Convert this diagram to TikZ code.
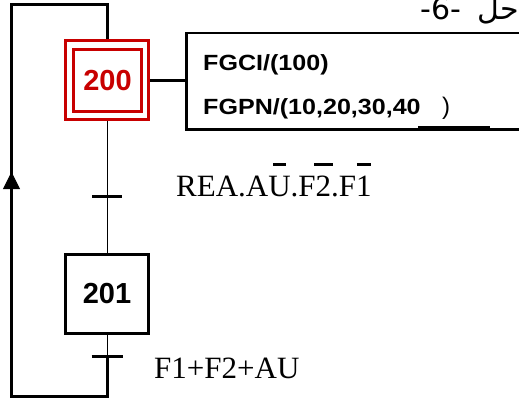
\documentclass[tikz,border=0pt]{standalone}
\usepackage{fontspec}
\setmainfont{Liberation Serif}
\newfontfamily\hsans{Liberation Sans}
\newfontfamily\hsansw[FakeStretch=1.14]{Liberation Sans}
\newfontfamily\arabicfont[Script=Arabic]{DejaVu Sans}
\TeXXeTstate=1
\usetikzlibrary{arrows.meta}
\definecolor{stepred}{RGB}{200,0,0}
\newcommand\ovl[2][1]{\setbox0=\hbox{#2}\makebox[\wd0][c]{\raisebox{0.98em}[0pt][0pt]{\rule{#1\wd0}{2.6pt}}}\llap{\box0}}
\begin{document}
\begin{tikzpicture}[x=1pt,y=-1pt,
  thickline/.style={line width=3pt},
  thinline/.style={line width=0.9pt},
  stepbox/.style={draw,line width=3pt,minimum width=82.6pt,minimum height=79pt,inner sep=0pt},
  trbar/.style={line width=3pt},
  actlabel/.style={anchor=base west,inner sep=0pt,font=\hsansw\bfseries\fontsize{22}{24}\selectfont},
  condlabel/.style={anchor=base west,inner sep=0pt,font=\fontsize{31}{34}\selectfont}]
\useasboundingbox (0,0) rectangle (519,405);
% steps
\node[stepbox,draw=stepred] (s200) at (107,80.2) {};
\node[draw=stepred,line width=3pt,minimum width=68.4pt,minimum height=62.4pt,inner sep=0pt] (s200in) at (107.5,80.5)
  {\hsans\bfseries\fontsize{29}{30}\selectfont\textcolor{stepred}{200}};
\node[stepbox] (s201) at (107,293.7) {\hsans\bfseries\fontsize{29}{30}\selectfont 201};
% action box
\node[draw,line width=2.5pt,anchor=west,minimum width=380pt,minimum height=96.5pt,inner sep=0pt] (act) at (185,81.3) {};
\draw[thickline] (s200.east) -- (s200.east -| act.west);
\node[actlabel] (a1) at (203,70) {FGCI/(100)};
\node[actlabel] (a2) at (203,114) {FGPN/(10,20,30,40};
\node[anchor=base west,inner sep=0pt,font=\hsans\fontsize{24}{26}\selectfont] (par) at (442,114) {)};
\coordinate (u1) at (418,127.5);
\coordinate (u2) at (490,127.5);
\draw[line width=3.5pt] (u1) -- (u2);
% transitions
\coordinate (t1) at (107,196.7);
\coordinate (t2) at (107,356);
\draw[thinline] (s200.south) -- (s201.north);
\draw[trbar] ([xshift=-15pt]t1) -- ([xshift=15pt]t1);
\draw[thinline] (s201.south) -- (t2);
\draw[trbar] ([xshift=-15.5pt]t2) -- ([xshift=15.5pt]t2);
% loop back
\coordinate (lb) at (107,396);
\coordinate (ll) at (11.5,396);
\coordinate (lt) at (11.5,4);
\coordinate (rt) at (107,4);
\draw[thickline,line join=miter] (t2) -- (lb) -- (ll) -- (lt) -- (rt) -- (s200.north);
\coordinate (ab) at (11.5,192);
\coordinate (at) at (11.5,172);
\draw[line width=1pt,-{Triangle[length=17pt,width=17pt]}] (ab) -- (at);
% conditions
\node[condlabel] (c1) at (176,196) {REA.A\ovl[0.55]{U}.F\ovl[1.2]{2}.F\ovl[0.9]{1}};
\node[condlabel] (c2) at (154,378.3) {F1+F2+AU};
% title
\node[anchor=base east,inner sep=0pt,font=\arabicfont\fontsize{30}{32}\selectfont] (title) at (519,19.5) {\beginR حل\hspace{16pt}\beginL-6-\endL\endR};
\end{tikzpicture}
\end{document}
